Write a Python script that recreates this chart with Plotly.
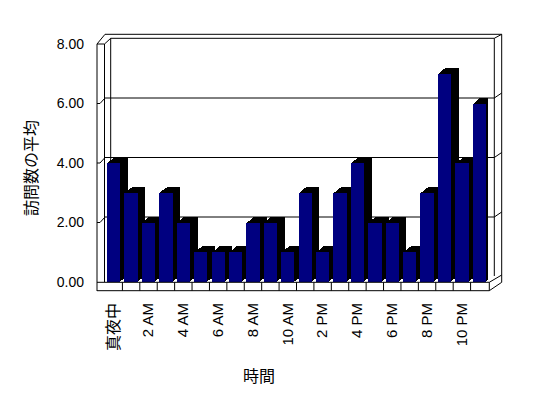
import plotly.graph_objects as go

# ---- data ----
hours = ["真夜中", "1 AM", "2 AM", "3 AM", "4 AM", "5 AM", "6 AM", "7 AM", "8 AM", "9 AM",
         "10 AM", "11 AM", "2 PM", "3 PM", "4 PM", "5 PM", "6 PM", "7 PM", "8 PM", "9 PM",
         "10 PM", "11 PM"]
visits = [4, 3, 2, 3, 2, 1, 1, 1, 2, 2, 1, 3, 1, 3, 4, 2, 2, 1, 3, 7, 4, 6]
y_ticks = [0, 2, 4, 6, 8]
y_title = "訪問数の平均"
x_title = "時間"

# ---- geometry (pixels) ----
W, H = 548, 398
L, R, T, B = 105, 488, 44, 282
PW, PH = R - L, B - T
FONT = "Liberation Sans, Arial, Noto Sans CJK JP"


def fx(px):
    return (px - L) / PW


def fy(py):
    return (B - py) / PH


x_idx = list(range(len(hours)))
bar_w = 0.765
dx_cat = 7.5 / (PW / len(hours))   # depth shift in category units
dy_val = 6 / (PH / 8)              # depth shift in value units

fig = go.Figure()
steps = 7
for s in range(1, steps + 1):
    f = s / steps
    fig.add_trace(go.Bar(
        x=x_idx, y=visits, base=dy_val * f, width=bar_w,
        offset=-bar_w / 2 + dx_cat * f,
        marker=dict(color="black", line=dict(width=0)),
        hoverinfo="skip", showlegend=False))
fig.add_trace(go.Bar(
    x=x_idx, y=visits, width=bar_w, offset=-bar_w / 2,
    marker=dict(color="#000080", line=dict(width=0)),
    showlegend=False))

shapes = []


def line(x0, y0, x1, y1, layer="below"):
    shapes.append(dict(type="line", xref="paper", yref="paper",
                       x0=fx(x0), y0=fy(y0), x1=fx(x1), y1=fy(y1),
                       line=dict(color="black", width=1), layer=layer))


def yp(v):
    return B - v * PH / 8


# left wall
line(97, 44, 97, 291)
line(104.5, 44, 104.5, 282)
line(97, 44, 104.5, 44)
line(97, 44, 105, 34.3)
line(104.5, 44, 110.7, 38.3)
line(110.7, 38.3, 110.7, 276)
# back wall
line(105, 34.3, 501.7, 34.3)
line(110.7, 38.3, 494.3, 38.3)
line(494.3, 38.3, 501.7, 34.3)
line(494.3, 38.3, 494.3, 276)
line(501.7, 34.3, 501.7, 282.3)
for v in [2, 4, 6]:
    yb = yp(v) - 5.5
    line(105, yb, 494.3, yb)
    line(97, yp(v), 100, yp(v))
    line(100, yp(v), 105, yb)
    line(494.3, yb, 501.7, yb - 5)
# floor slab
line(97, 282.3, 489.3, 282.3, "above")
line(97, 290.7, 489.3, 290.7, "above")
line(489.3, 282.3, 489.3, 290.7, "above")
line(489.3, 282.3, 501.7, 275)
line(489.3, 290.7, 501.7, 282.3)
cw = PW / len(hours)
for k in range(1, len(hours)):
    line(L + k * cw, 282.3, L + k * cw, 290.7, "above")

tick_vals = x_idx[::2]
tick_text = [hours[i] for i in tick_vals]
tick_text = [f'<span style="font-size:16px;fill:#000000">{t}</span>' if t == "真夜中" else t
             for t in tick_text]

fig.update_layout(
    width=W, height=H,
    margin=dict(l=L, r=W - R, t=T, b=H - B, pad=0),
    paper_bgcolor="white", plot_bgcolor="rgba(0,0,0,0)",
    barmode="overlay", bargap=0,
    font=dict(family=FONT, size=14, color="black"),
    shapes=shapes,
    xaxis=dict(range=[-0.5, len(hours) - 0.5], tickmode="array",
               tickvals=tick_vals, ticktext=tick_text, tickangle=-90,
               showgrid=False, zeroline=False, showline=False, ticks="",
               ticklabelstandoff=17, tickfont=dict(size=15, color="black"),
               automargin=False),
    yaxis=dict(range=[0, 8], tickmode="array", tickvals=y_ticks,
               ticktext=[f"{v:.2f}" for v in y_ticks],
               showgrid=False, zeroline=False, showline=False, ticks="",
               ticklabelstandoff=20, tickfont=dict(size=14, color="black"),
               automargin=False),
    annotations=[
        dict(text=y_title, xref="paper", yref="paper", x=fx(31), y=fy(168),
             textangle=-90, showarrow=False, font=dict(size=16),
             xanchor="center", yanchor="middle"),
        dict(text=x_title, xref="paper", yref="paper", x=fx(259), y=fy(376),
             showarrow=False, font=dict(size=16),
             xanchor="center", yanchor="middle"),
    ],
)

fig.write_html("out.html", config={"displayModeBar": False},
               post_script="document.body.style.margin='0';")
